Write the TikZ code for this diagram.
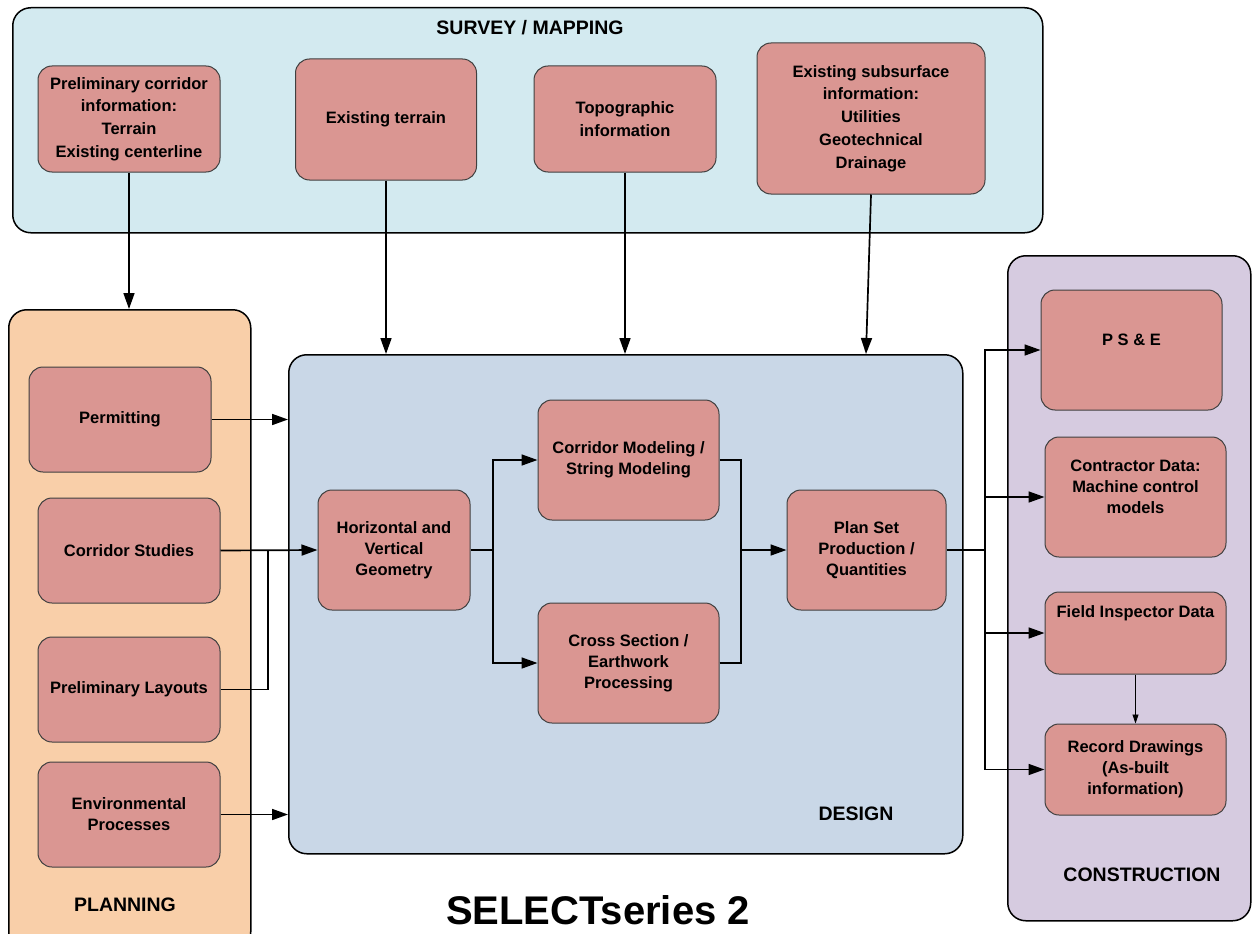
\documentclass[tikz,border=0pt]{standalone}
\usepackage{fontspec}
\setmainfont{Liberation Sans}
\usetikzlibrary{shapes, positioning, arrows.meta}

\definecolor{surveyfill}{HTML}{D3EAF0}
\definecolor{planfill}{HTML}{F9CFA9}
\definecolor{designfill}{HTML}{C9D7E7}
\definecolor{constfill}{HTML}{D6CBE0}
\definecolor{boxfill}{HTML}{DA9692}

\begin{document}
\begin{tikzpicture}[x=1pt, y=-1pt,
    panel/.style={rectangle, draw=black, line width=1.5pt, rounded corners=18pt,
        anchor=north west, inner sep=0pt},
    box/.style={rectangle, draw=black!75, line width=1pt, rounded corners=14pt,
        fill=boxfill, text centered, align=center, text=black,
        font=\fontsize{16.5}{21}\selectfont\bfseries, inner sep=0pt},
    % wider line spacing in the survey boxes
    source/.style={box, font=\fontsize{16.5}{22.8}\selectfont\bfseries},
    boxtext/.style={align=center, text=black, font=\fontsize{16.5}{21}\selectfont\bfseries},
    heading/.style={text=black, font=\fontsize{19.5}{24}\selectfont\bfseries},
    flow/.style={-{Triangle[length=16pt, width=11pt]}, line width=1.7pt},
    link/.style={line width=1.7pt}
]
\useasboundingbox (0,0) rectangle (1256,934);

% panels
\node (Survey00) [panel, fill=surveyfill, minimum width=1030pt, minimum height=225pt] at (12,7) {};
\node (Plan00) [panel, fill=planfill, minimum width=242pt, minimum height=640pt] at (8,309) {};
\node (Design00) [panel, fill=designfill, minimum width=674pt, minimum height=499pt] at (288,354) {};
\node (Const00) [panel, fill=constfill, minimum width=243pt, minimum height=665pt] at (1007,255) {};

\node (Survey01) [heading] at (530,28) {SURVEY / MAPPING};
\node (Plan01) [heading] at (125,905) {PLANNING};
\node (Design01) [heading] at (856,814) {DESIGN};
\node (Const01) [heading] at (1142,875) {CONSTRUCTION};
\node (Title00) [text=black, font=\fontsize{40}{48}\selectfont\bfseries] at (598,910) {SELECTseries 2};

% survey
\node (S01) [source, minimum width=182pt, minimum height=106pt] at (129,119)
    {Preliminary corridor\\information:\\Terrain\\Existing centerline};
\node (S02) [source, minimum width=181pt, minimum height=121pt] at (386,119.5) {Existing terrain};
\node (S03) [source, minimum width=182pt, minimum height=106pt] at (625,119) {Topographic\\information};
\node (S04) [source, minimum width=228pt, minimum height=151pt] at (871,118.5)
    {Existing subsurface\\information:\\Utilities\\Geotechnical\\Drainage};

% planning
\node (P01) [box, minimum width=182pt, minimum height=105pt] at (120,419.5) {Permitting};
\node (P02) [box, minimum width=182pt, minimum height=105pt] at (129,550.5) {Corridor Studies};
\node (P03) [box, minimum width=182pt, minimum height=105pt] at (129,689.5) {Preliminary Layouts};
\node (P04) [box, minimum width=182pt, minimum height=105pt] at (129,814.5) {Environmental\\Processes};

% design
\node (D01) [box, minimum width=152pt, minimum height=120pt] at (394,550) {Horizontal and\\Vertical\\Geometry};
\node (D02) [box, minimum width=181pt, minimum height=120pt] at (628.5,460) {Corridor Modeling /\\String Modeling};
\node (D03) [box, minimum width=181pt, minimum height=120pt] at (628.5,663) {Cross Section /\\Earthwork\\Processing};
\node (D04) [box, minimum width=159pt, minimum height=120pt] at (866.5,550) {Plan Set\\Production /\\Quantities};

% construction
\node (C01) [box, minimum width=181pt, minimum height=120pt,
    label={[boxtext, yshift=10pt]center:P S \& E}] at (1131.5,350) {};
\node (C02) [box, minimum width=181pt, minimum height=120pt,
    label={[boxtext, yshift=10pt]center:{Contractor Data:\\Machine control\\models}}] at (1135.5,497) {};
\node (C03) [box, minimum width=181pt, minimum height=82pt,
    label={[boxtext, yshift=20pt]center:Field Inspector Data}] at (1135.5,633) {};
\node (C04) [box, minimum width=181pt, minimum height=91pt] at (1135.5,769.5)
    {Record Drawings\\(As-built\\information)};

\coordinate (J01) at (268,550);
\coordinate (J02) at (493,550);
\coordinate (J03) at (741,550);
\coordinate (J04) at (985,550);

% survey to planning / design
\draw[flow] (S01.south) -- (S01.south |- Plan00.north);
\draw[flow] (S02.south) -- (S02.south |- Design00.north);
\draw[flow] (S03.south) -- (S03.south |- Design00.north);
\draw[flow] (S04.south) -- ([xshift=-5pt]S04.south |- Design00.north);

% planning to design
\draw[flow] (P01.east) -- (P01.east -| Design00.west);
\draw[flow] (P02.east) -- (D01.west);
\draw[link] (P03.east) -| (J01);
\draw[flow] (P04.east) -- (P04.east -| Design00.west);

% design
\draw[link] (D01.east) -- (J02);
\draw[flow] (J02) |- (D02.west);
\draw[flow] (J02) |- (D03.west);
\draw[link] (D02.east) -| (J03);
\draw[link] (D03.east) -| (J03);
\draw[flow] (J03) -- (D04.west);

% design to construction
\draw[link] (D04.east) -- (J04);
\draw[flow] (J04) |- (C01.west);
\draw[flow] (J04) |- (C02.west);
\draw[flow] (J04) |- (C03.west);
\draw[flow] (J04) |- (C04.west);
\draw[-{Triangle[length=9pt, width=6pt]}, line width=0.8pt] (C03.south) -- (C04.north);

\end{tikzpicture}
\end{document}
